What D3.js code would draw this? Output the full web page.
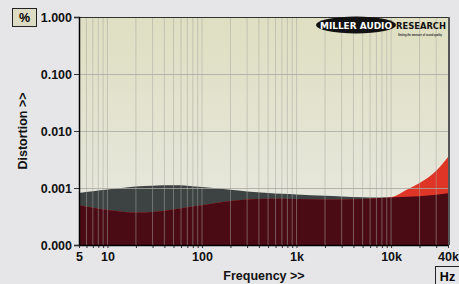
<!DOCTYPE html>
<html>
<head>
<meta charset="utf-8">
<script src="https://cdn.jsdelivr.net/npm/d3@7"></script>
<style>
  body { margin: 0; background: #e6e6e8; }
  svg { display: block; font-family: "Liberation Sans", Arial, sans-serif; }
</style>
</head>
<body>
<script>
// frequency points (Hz) and two THD traces (%)
const freqs = [5, 7, 10, 15, 20, 30, 50, 70, 100, 200, 300, 500, 700, 1000, 2000, 3000, 5000, 7000, 10000, 15000, 20000, 30000, 40000];
const traceGray = [0.00082, 0.00088, 0.00094, 0.00101, 0.00106, 0.0011, 0.00112, 0.0011, 0.00104, 0.00093, 0.00087, 0.00082, 0.00079, 0.00077, 0.00073, 0.00071, 0.00069, 0.00068, 0.00068, 0.0007, 0.00072, 0.00076, 0.00081];
const traceRed = [0.0005, 0.00045, 0.00041, 0.00038, 0.00037, 0.00038, 0.00042, 0.00046, 0.0005, 0.00059, 0.00063, 0.00065, 0.00065, 0.00064, 0.00063, 0.00063, 0.00064, 0.00066, 0.00069, 0.00095, 0.00122, 0.002, 0.0035];
const yTicks = [1, 0.1, 0.01, 0.001, 0.0001];
const yTickLabels = ["1.000", "0.100", "0.010", "0.001", "0.000"];
const xTicks = [5, 10, 100, 1000, 10000, 40000];
const xTickLabels = ["5", "10", "100", "1k", "10k", "40k"];

const margin = { top: 17, bottom: 39, left: 79, right: 11 };
const W = 459, H = 284;
const width = W - margin.left - margin.right;
const height = H - margin.top - margin.bottom;

const svg = d3.select("body").append("svg").attr("width", W).attr("height", H);

const defs = svg.append("defs");
const grad = defs.append("linearGradient").attr("id", "bg").attr("x1", 0).attr("y1", 0).attr("x2", 0).attr("y2", 1);
grad.append("stop").attr("offset", "0%").attr("stop-color", "#dfdfc2");
grad.append("stop").attr("offset", "100%").attr("stop-color", "#e8e8e2");

const g = svg.append("g").attr("transform", `translate(${margin.left},${margin.top})`);

const x = d3.scaleLog().domain([5, 40000]).range([0, width]);
const y = d3.scaleLog().domain([0.0001, 1]).range([height, 0]);

g.append("rect").attr("width", width).attr("height", height).attr("fill", "url(#bg)");

const data = freqs.map((f, i) => ({ f, a: traceGray[i], b: traceRed[i] }));
const curve = d3.curveMonotoneX;

const area = (acc) => d3.area().x(d => x(d.f)).y0(height).y1(d => y(acc(d))).curve(curve);

g.append("path").attr("d", area(d => d.a)(data)).attr("fill", "#3d4343");
g.append("path").attr("d", area(d => d.b)(data)).attr("fill", "#de3526");
g.append("path").attr("d", area(d => Math.min(d.a, d.b))(data)).attr("fill", "#4a0b15");

// grid on top of the fills
const minor = [];
for (let dec = 1; dec <= 10000; dec *= 10) {
  for (let k = 1; k <= 9; k++) {
    const v = k * dec;
    if (v >= 5 && v <= 40000) minor.push(v);
  }
}
g.append("g").selectAll("line").data(minor.filter(v => v > 5 && v < 40000)).join("line")
  .attr("x1", d => x(d)).attr("x2", d => x(d))
  .attr("y1", 0).attr("y2", height)
  .attr("stroke", "#a8a8a0").attr("stroke-opacity", 0.5).attr("stroke-width", 1);
g.append("g").selectAll("line").data(yTicks.slice(1, 4)).join("line")
  .attr("x1", 0).attr("x2", width)
  .attr("y1", d => Math.round(y(d)) + 0.5).attr("y2", d => Math.round(y(d)) + 0.5)
  .attr("stroke", "#a8a8a0").attr("stroke-opacity", 0.8);

// frame
g.append("line").attr("x1", 0).attr("x2", width).attr("y1", 0.5).attr("y2", 0.5).attr("stroke", "#333");
g.append("line").attr("x1", width + 1).attr("x2", width + 1).attr("y1", 0).attr("y2", height).attr("stroke", "#555").attr("stroke-width", 2);

// axes
const yaxis = d3.axisLeft(y).tickValues(yTicks).tickFormat((d, i) => yTickLabels[i]).tickSize(5).tickPadding(2);
const gy = g.append("g").call(yaxis);
const xaxisMinor = d3.axisBottom(x).tickValues(minor).tickFormat("").tickSize(3);
const gxm = g.append("g").attr("transform", `translate(0,${height})`).call(xaxisMinor);
const xaxis = d3.axisBottom(x).tickValues(xTicks).tickFormat((d, i) => xTickLabels[i]).tickSize(0).tickPadding(7);
const gx = g.append("g").attr("transform", `translate(0,${height})`).call(xaxis);
[gy, gx, gxm].forEach(a => {
  a.selectAll(".domain").attr("stroke", "#000").attr("stroke-width", 1.5);
  a.selectAll("text").attr("fill", "#111").attr("font-weight", "bold").attr("font-size", 12.5)
    .attr("font-family", "'Liberation Sans', Arial, sans-serif");
  a.selectAll(".tick line").attr("stroke", "#333");
});
gxm.select(".domain").remove();

// axis titles
svg.append("text").attr("transform", "translate(27,131) rotate(-90)").attr("text-anchor", "middle")
  .attr("font-weight", "bold").attr("font-size", 12.5).attr("fill", "#111").text("Distortion >>");
svg.append("text").attr("x", 264).attr("y", 280).attr("text-anchor", "middle")
  .attr("font-weight", "bold").attr("font-size", 12.5).attr("fill", "#111").text("Frequency >>");

// unit boxes
svg.append("rect").attr("x", 12.5).attr("y", 8.5).attr("width", 24).attr("height", 18).attr("fill", "#dcdcc4").attr("stroke", "#222");
svg.append("text").attr("x", 24.5).attr("y", 22).attr("text-anchor", "middle").attr("font-weight", "bold").attr("font-size", 12.5).text("%");
svg.append("rect").attr("x", 435.5).attr("y", 266.5).attr("width", 24).attr("height", 18).attr("fill", "#e6e6e8").attr("stroke", "#222");
svg.append("text").attr("x", 447.5).attr("y", 281).attr("text-anchor", "middle").attr("font-weight", "bold").attr("font-size", 12.5).text("Hz");

// logo
const logo = svg.append("g").attr("transform", "translate(356,25)");
logo.append("ellipse").attr("rx", 40).attr("ry", 8.5).attr("fill", "#111");
logo.append("text").attr("x", 0).attr("y", 3.5).attr("text-anchor", "middle").attr("fill", "#fff")
  .attr("font-weight", "900").attr("font-size", 9.5).attr("font-family", "'DejaVu Sans', sans-serif")
  .attr("textLength", 72).attr("lengthAdjust", "spacingAndGlyphs").text("MILLER AUDIO");
logo.append("text").attr("x", 40).attr("y", 3.5).attr("fill", "#111")
  .attr("font-weight", "900").attr("font-size", 9.5).attr("font-family", "'DejaVu Sans', sans-serif")
  .attr("textLength", 50).attr("lengthAdjust", "spacingAndGlyphs").text("RESEARCH");
logo.append("text").attr("x", 42).attr("y", 11).attr("fill", "#222").attr("font-weight", "bold")
  .attr("font-size", 4).attr("textLength", 44).attr("lengthAdjust", "spacingAndGlyphs").text("Setting the measure of sound quality");
</script>
</body>
</html>
